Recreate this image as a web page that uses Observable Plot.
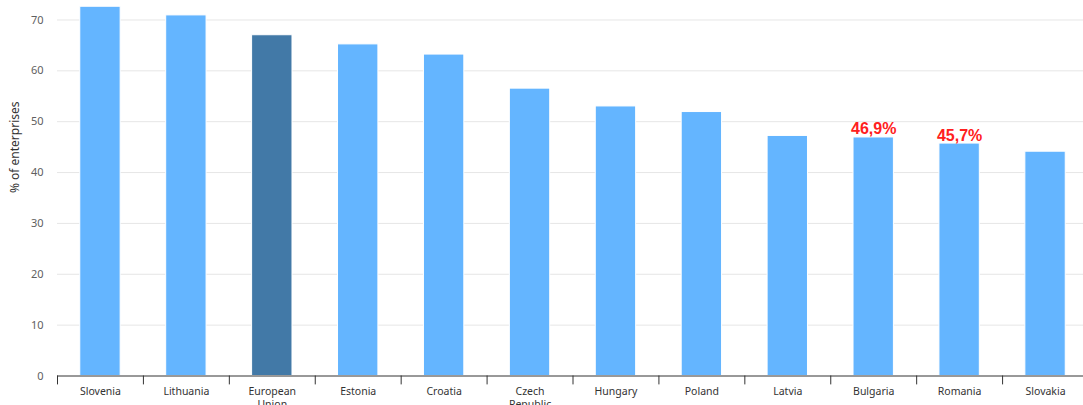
<!DOCTYPE html>
<html>
<head>
<meta charset="utf-8">
<script src="https://cdn.jsdelivr.net/npm/d3@7"></script>
<script src="https://cdn.jsdelivr.net/npm/@observablehq/plot@0.6"></script>
<style>
  html, body { margin: 0; padding: 0; background: #fff; overflow: hidden; }
  #chart svg { display: block; }
</style>
</head>
<body>
<div id="chart"></div>
<script>
const countries = ["Slovenia", "Lithuania", "European Union", "Estonia", "Croatia", "Czech Republic", "Hungary", "Poland", "Latvia", "Bulgaria", "Romania", "Slovakia"];
const values = [72.6, 70.9, 67.0, 65.2, 63.2, 56.5, 53.0, 51.9, 47.2, 46.9, 45.7, 44.1];
const highlighted = ["European Union"];
const labelled = ["Bulgaria", "Romania"];
const yTicks = [0, 10, 20, 30, 40, 50, 60, 70];
const yTitle = "% of enterprises";

const data = countries.map((c, i) => ({country: c, value: values[i]}));
const labelData = data.filter(d => labelled.includes(d.country));

const W = 1083, H = 405;
const xRange = [57, 1088];
const step = (xRange[1] - xRange[0]) / countries.length;
const font = "'Noto Sans', sans-serif";

const chart = Plot.plot({
  width: W,
  height: H,
  marginTop: 0,
  marginBottom: 29.5,
  marginLeft: 57,
  marginRight: 0,
  style: {fontFamily: font, fontSize: "11px", background: "#fff", overflow: "hidden"},
  x: {domain: countries, range: xRange, round: false, paddingInner: 0.53, paddingOuter: 0.265, axis: null},
  y: {domain: [0, 73.83], axis: null},
  marks: [
    Plot.gridY(yTicks.filter(t => t > 0), {stroke: "#e6e6e6", strokeOpacity: 1, strokeWidth: 1}),
    Plot.axisY(yTicks, {tickSize: 0, tickPadding: 14, fill: "#606060", fontSize: 11, label: null}),
    Plot.barY(data, {
      x: "country", y: "value",
      fill: d => highlighted.includes(d.country) ? "#4279a7" : "#64b5ff",
      stroke: "#ffffff", strokeWidth: 1
    }),
    Plot.ruleY([0], {stroke: "#333333", strokeWidth: 1}),
    Plot.ruleX(countries, {x: d => d, y1: 0, y2: -1.75, dx: -step / 2, stroke: "#333333", strokeWidth: 1}),
    Plot.axisX(countries, {
      tickSize: 0, tickPadding: 9, fill: "#333333", fontSize: 10.5, label: null,
      lineHeight: 1.3,
      tickFormat: d => d.replace(" ", "\n")
    }),
    Plot.text(labelData, {
      x: "country", y: "value",
      text: d => d.value.toFixed(1).replace(".", ",") + "%",
      lineAnchor: "bottom", dy: -3,
      fill: "#ff2020", fontWeight: "bold", fontSize: 16,
      fontFamily: "'Liberation Sans', Arial, sans-serif"
    }),
    Plot.text([yTitle], {
      text: d => d, frameAnchor: "left", rotate: -90,
      dx: -42, dy: -41, fill: "#333333", fontSize: 12, textAnchor: "middle"
    })
  ]
});
document.getElementById("chart").appendChild(chart);
</script>
</body>
</html>
